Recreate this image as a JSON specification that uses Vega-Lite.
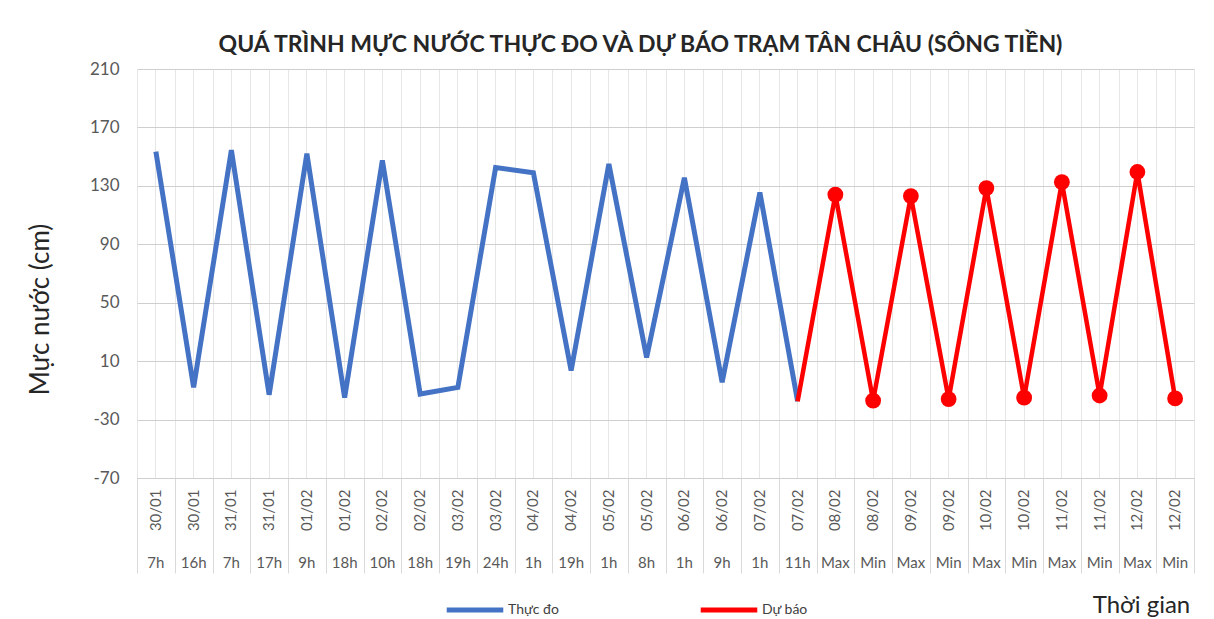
{
  "$schema": "https://vega.github.io/schema/vega-lite/v6.json",
  "autosize": "none",
  "width": 1057,
  "height": 409,
  "padding": {"left": 137, "top": 69, "right": 20, "bottom": 141},
  "background": "white",
  "config": {"view": {"stroke": null}, "font": "Lato"},
  "title": {
    "text": "QUÁ TRÌNH MỰC NƯỚC THỰC ĐO VÀ DỰ BÁO TRẠM TÂN CHÂU (SÔNG TIỀN)",
    "font": "Lato", "fontSize": 23, "fontWeight": "bold", "color": "#262626",
    "anchor": "middle", "dx": -25, "offset": 3
  },
  "data": {"values": [
    {"k": "30/01 7h", "s": "Thực đo", "v": 153.5},
    {"k": "30/01 16h", "s": "Thực đo", "v": -8},
    {"k": "31/01 7h", "s": "Thực đo", "v": 154.5},
    {"k": "31/01 17h", "s": "Thực đo", "v": -13},
    {"k": "01/02 9h", "s": "Thực đo", "v": 152},
    {"k": "01/02 18h", "s": "Thực đo", "v": -15},
    {"k": "02/02 10h", "s": "Thực đo", "v": 147.5},
    {"k": "02/02 18h", "s": "Thực đo", "v": -12.5},
    {"k": "03/02 19h", "s": "Thực đo", "v": -8},
    {"k": "03/02 24h", "s": "Thực đo", "v": 142.5},
    {"k": "04/02 1h", "s": "Thực đo", "v": 139},
    {"k": "04/02 19h", "s": "Thực đo", "v": 3.5},
    {"k": "05/02 1h", "s": "Thực đo", "v": 145},
    {"k": "05/02 8h", "s": "Thực đo", "v": 12.5},
    {"k": "06/02 1h", "s": "Thực đo", "v": 135.5},
    {"k": "06/02 9h", "s": "Thực đo", "v": -4.5},
    {"k": "07/02 1h", "s": "Thực đo", "v": 125.5},
    {"k": "07/02 11h", "s": "Thực đo", "v": -17.5},
    {"k": "07/02 11h", "s": "Dự báo", "v": -17.5},
    {"k": "08/02 Max", "s": "Dự báo", "v": 124},
    {"k": "08/02 Min", "s": "Dự báo", "v": -17},
    {"k": "09/02 Max", "s": "Dự báo", "v": 123},
    {"k": "09/02 Min", "s": "Dự báo", "v": -16},
    {"k": "10/02 Max", "s": "Dự báo", "v": 128.5},
    {"k": "10/02 Min", "s": "Dự báo", "v": -15},
    {"k": "11/02 Max", "s": "Dự báo", "v": 132.5},
    {"k": "11/02 Min", "s": "Dự báo", "v": -13.5},
    {"k": "12/02 Max", "s": "Dự báo", "v": 139.5},
    {"k": "12/02 Min", "s": "Dự báo", "v": -15.5}
  ]},
  "encoding": {
    "y": {
      "field": "v", "type": "quantitative",
      "scale": {"domain": [-70, 210], "nice": false, "zero": false},
      "axis": {
        "values": [-70, -30, 10, 50, 90, 130, 170, 210],
        "labelExpr": "datum.value + ''",
        "domain": false, "ticks": false, "grid": true,
        "gridColor": "#cfcfcf", "gridWidth": 1,
        "labelFont": "Lato", "labelFontSize": 17, "labelColor": "#595959", "labelPadding": 18,
        "title": "Mực nước (cm)", "titleFont": "Lato", "titleFontSize": 26, "titleFontWeight": "normal",
        "titleColor": "#262626", "titleAngle": 270, "titleX": -97, "titleY": 240,
        "titleAlign": "center", "titleBaseline": "middle"
      }
    }
  },
  "layer": [
    {
      "transform": [{"filter": "datum.s === 'Thực đo'"}],
      "mark": {"type": "line", "strokeWidth": 5, "strokeJoin": "miter"},
      "encoding": {
        "x": {
          "field": "k", "type": "ordinal",
          "scale": {"type": "band", "paddingInner": 0, "paddingOuter": 0,
            "domain": ["30/01 7h","30/01 16h","31/01 7h","31/01 17h","01/02 9h","01/02 18h","02/02 10h","02/02 18h","03/02 19h","03/02 24h","04/02 1h","04/02 19h","05/02 1h","05/02 8h","06/02 1h","06/02 9h","07/02 1h","07/02 11h","08/02 Max","08/02 Min","09/02 Max","09/02 Min","10/02 Max","10/02 Min","11/02 Max","11/02 Min","12/02 Max","12/02 Min"]},
          "axis": {
            "orient": "bottom", "tickBand": "extent", "labels": false,
            "ticks": true, "tickSize": 95, "tickColor": "#d9d9d9", "tickWidth": 1,
            "grid": true, "gridColor": "#e6e6e6", "gridWidth": 1,
            "domain": true, "domainColor": "#cfcfcf", "domainWidth": 1,
            "title": null
          }
        },
        "color": {
          "field": "s", "type": "nominal",
          "scale": {"domain": ["Thực đo", "Dự báo"], "range": ["#4472C4", "#FF0000"]},
          "legend": {
            "title": null, "orient": "none", "direction": "horizontal",
            "legendX": 307, "legendY": 510,
            "symbolType": "stroke", "symbolSize": 3200, "symbolStrokeWidth": 5,
            "labelFont": "Lato", "labelFontSize": 14, "labelColor": "#404040",
            "labelOffset": 2, "columnPadding": 131
          }
        }
      }
    },
    {
      "transform": [{"filter": "datum.s === 'Dự báo'"}],
      "mark": {"type": "line", "strokeWidth": 4.5, "strokeJoin": "miter"},
      "encoding": {
        "x": {
          "field": "k", "type": "ordinal",
          "axis": {
            "orient": "bottom", "tickBand": "center",
            "labelExpr": "split(datum.value, ' ')[0]",
            "labelAngle": 270, "labelAlign": "right", "labelBaseline": "middle",
            "labelFont": "Lato", "labelFontSize": 15, "labelColor": "#595959", "labelPadding": 11,
            "ticks": false, "grid": true, "gridColor": "#e6e6e6", "gridWidth": 1,
            "domain": false, "title": null
          }
        },
        "color": {"field": "s", "type": "nominal"}
      }
    },
    {
      "transform": [{"filter": "datum.s === 'Dự báo' && datum.k !== '07/02 11h'"}],
      "mark": {"type": "point", "filled": true, "size": 250, "color": "#FF0000", "opacity": 1},
      "encoding": {
        "x": {
          "field": "k", "type": "ordinal",
          "axis": {
            "orient": "bottom",
            "labelExpr": "split(datum.value, ' ')[1]",
            "labelAngle": 0, "labelAlign": "center", "labelBaseline": "middle",
            "labelFont": "Lato", "labelFontSize": 15, "labelColor": "#595959", "labelPadding": 84,
            "ticks": false, "grid": false, "domain": false,
            "title": "Thời gian", "titleFont": "Lato", "titleFontSize": 24, "titleFontWeight": "normal",
            "titleColor": "#262626", "titleX": 1004, "titleY": 127,
            "titleAlign": "center", "titleBaseline": "middle"
          }
        }
      }
    }
  ],
  "resolve": {"axis": {"x": "independent"}}
}
